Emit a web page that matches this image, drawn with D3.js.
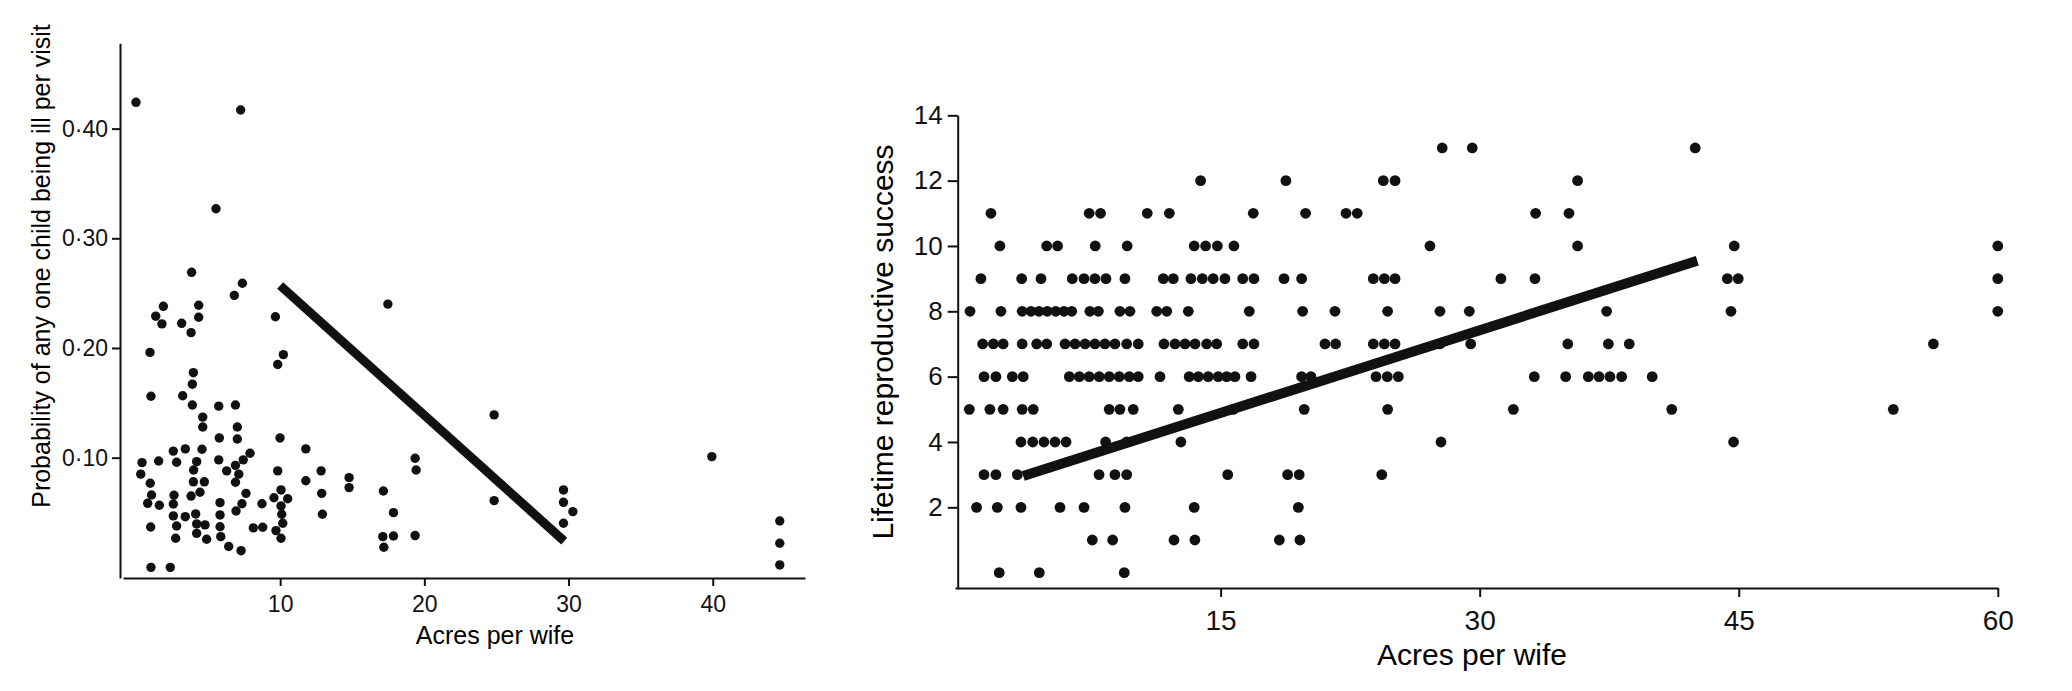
<!DOCTYPE html>
<html>
<head>
	<title>index</title>
	<meta charset="UTF-8">
	<script src="https://cdn.jsdelivr.net/npm/d3@7/dist/d3.min.js"></script>
	<style>
		body { margin:0; background:#fff; }
		svg { display:block; font-family:"Liberation Sans", Arial, sans-serif; }
		.axis path, .axis line { stroke:#111; stroke-width:2; }
		.axis text { fill:#111; }
	</style>
</head>
<body>
<script>
	// ---------- left panel: illness vs acres per wife ----------
	var illAcres = [0.0, 7.26, 5.55, 3.86, 7.38, 6.82, 1.37, 1.9, 1.8, 3.17, 3.82, 4.35, 4.35, 9.67, 17.47,
		0.97, 1.04, 3.98, 3.91, 3.24, 3.91, 4.63, 4.63, 5.74, 6.9, 7.03, 7.03, 5.78, 9.83, 10.22, 9.99, 11.78,
		0.42, 0.33, 1.57, 2.59, 3.42, 2.82, 4.21, 4.58, 4.0, 3.98, 4.74, 4.44, 3.82, 5.74, 6.29, 6.9, 7.13, 6.9,
		7.44, 7.91, 7.63, 7.35, 6.94, 5.83, 5.83, 5.83, 5.88, 6.43, 7.29,
		0.99, 1.08, 0.81, 1.62, 1.02, 2.64, 2.59, 2.59, 2.82, 2.75, 3.42, 4.14, 4.21, 4.21, 4.79, 4.9, 1.04, 2.38,
		8.74, 8.14, 8.79, 9.83, 10.06, 9.57, 10.52, 10.06, 10.11, 10.18, 9.71, 10.06,
		11.78, 12.84, 12.88, 12.93, 14.78, 14.78, 17.16, 17.86, 17.12, 17.86, 17.19, 19.36, 19.43, 19.36,
		24.84, 24.84, 29.65, 29.65, 30.3, 29.65, 39.94, 44.65, 44.65, 44.65];
	var illProb = [0.424, 0.417, 0.327, 0.269, 0.259, 0.248, 0.229, 0.238, 0.222, 0.2225, 0.214, 0.239, 0.228, 0.2285, 0.240,
		0.196, 0.156, 0.1775, 0.167, 0.1565, 0.148, 0.137, 0.128, 0.147, 0.148, 0.128, 0.117, 0.118, 0.185, 0.194, 0.118, 0.108,
		0.0955, 0.085, 0.097, 0.106, 0.108, 0.0958, 0.0964, 0.1077, 0.0888, 0.078, 0.078, 0.0685, 0.065, 0.098, 0.088, 0.093, 0.085, 0.0776,
		0.098, 0.104, 0.0675, 0.058, 0.0514, 0.059, 0.0478, 0.037, 0.028, 0.019, 0.0152,
		0.0767, 0.066, 0.0584, 0.0566, 0.0368, 0.0657, 0.0578, 0.0469, 0.0377, 0.0265, 0.0462, 0.0487, 0.0396, 0.031, 0.0387, 0.0256, 0.0, 0.0,
		0.058, 0.036, 0.0366, 0.088, 0.0706, 0.0635, 0.0626, 0.056, 0.0484, 0.0402, 0.0335, 0.0265,
		0.079, 0.088, 0.0675, 0.0484, 0.0818, 0.0727, 0.0696, 0.0499, 0.028, 0.0286, 0.0183, 0.0995, 0.0888, 0.029,
		0.139, 0.0608, 0.0706, 0.0593, 0.0508, 0.0402, 0.101, 0.0423, 0.022, 0.0022];
	var illFitAcres = [10, 29.7];
	var illFitProb = [0.257, 0.024];
	var illTicksX = [10, 20, 30, 40];
	var illTicksY = [0.10, 0.20, 0.30, 0.40];

	// ---------- right panel: lifetime reproductive success ----------
	var lrsRows = [13, 12, 11, 10, 9, 8, 7, 6, 5, 4, 3, 2, 1, 0];
	var lrsAcres = [
		[27.83, 29.57, 42.48],
		[13.84, 18.78, 24.42, 25.10, 35.67],
		[1.70, 7.39, 8.05, 10.75, 12.03, 16.89, 19.92, 22.26, 22.91, 33.24, 35.17],
		[2.22, 4.93, 5.56, 7.74, 9.59, 13.47, 14.13, 14.81, 15.77, 27.12, 35.67, 44.74, 60],
		[1.12, 3.48, 4.60, 6.41, 7.09, 7.72, 8.36, 9.46, 11.68, 12.26, 13.28, 13.94, 14.57, 15.25, 16.28, 16.93,
			18.67, 19.69, 23.84, 24.48, 25.10, 31.23, 33.20, 44.34, 44.97, 60],
		[0.49, 2.28, 3.51, 4.02, 4.48, 4.96, 5.45, 5.93, 6.38, 7.43, 7.92, 9.17, 9.75, 11.30, 11.88, 13.13, 16.66,
			19.75, 21.62, 24.67, 27.70, 29.40, 37.35, 44.55, 60],
		[1.22, 1.84, 2.41, 3.51, 4.35, 4.93, 5.99, 6.57, 7.15, 7.72, 8.30, 8.88, 9.56, 10.23, 11.72, 12.36, 12.94,
			13.52, 14.19, 14.77, 16.28, 16.93, 21.04, 21.66, 23.84, 24.48, 25.10, 27.70, 29.48, 35.10, 37.45, 38.66, 56.27],
		[1.30, 1.99, 2.94, 3.57, 6.24, 6.82, 7.39, 7.97, 8.55, 9.13, 9.71, 10.23, 11.49, 13.18, 13.71, 14.28, 14.86,
			15.35, 15.83, 16.76, 19.69, 20.23, 24.00, 24.65, 25.29, 33.16, 34.98, 36.29, 36.91, 37.54, 38.22, 39.99],
		[0.45, 1.64, 2.41, 3.51, 4.15, 8.55, 9.17, 9.94, 12.55, 15.73, 19.84, 24.67, 31.95, 41.12, 53.95],
		[3.44, 4.12, 4.77, 5.41, 6.05, 8.34, 9.56, 12.70, 27.76, 44.70],
		[1.30, 1.99, 3.23, 7.96, 8.88, 9.56, 15.41, 18.88, 19.55, 24.33],
		[0.87, 2.07, 3.44, 5.70, 7.09, 9.46, 13.47, 19.50],
		[7.57, 8.75, 12.30, 13.51, 18.40, 19.59],
		[2.18, 4.50, 9.42]
	];
	var lrsFitAcres = [3.57, 42.6];
	var lrsFitValue = [2.96, 9.55];
	var lrsTicksX = [15, 30, 45, 60];
	var lrsTicksY = [2, 4, 6, 8, 10, 12, 14];

	var svg = d3.select("body").append("svg").attr("width", 2072).attr("height", 691);

	drawLeft();
	drawRight();

	function drawLeft() {
		var x = d3.scaleLinear().domain([-0.9, 46.4]).range([123, 805]);
		var y = d3.scaleLinear().domain([-0.0097, 0.4778]).range([578, 43.3]);

		var xAxis = svg.append("g").attr("class", "axis").attr("transform", "translate(0,578)")
			.call(d3.axisBottom(x).tickValues(illTicksX).tickSize(8).tickSizeOuter(0).tickPadding(10)
				.tickFormat(d3.format("d")));
		xAxis.selectAll("text").style("font-size", "23px");

		var yAxis = svg.append("g").attr("class", "axis").attr("transform", "translate(120,0)")
			.call(d3.axisLeft(y).tickValues(illTicksY).tickSize(8).tickSizeOuter(0).tickPadding(4)
				.tickFormat(function(d) { return d3.format(".2f")(d).replace(".", "\u00b7"); }));
		yAxis.selectAll("text").style("font-size", "23px");

		svg.append("text").attr("x", 495).attr("y", 644).attr("text-anchor", "middle")
			.style("font-size", "25px").text("Acres per wife");
		svg.append("text").attr("transform", "translate(50,266) rotate(-90)").attr("text-anchor", "middle")
			.style("font-size", "25px").text("Probability of any one child being ill per visit");

		svg.append("g").selectAll("circle").data(d3.range(illAcres.length)).enter().append("circle")
			.attr("cx", function(i) { return x(illAcres[i]); })
			.attr("cy", function(i) { return y(illProb[i]); })
			.attr("r", 4.7).attr("fill", "#111");

		svg.append("line")
			.attr("x1", x(illFitAcres[0])).attr("y1", y(illFitProb[0]))
			.attr("x2", x(illFitAcres[1])).attr("y2", y(illFitProb[1]))
			.attr("stroke", "#111").attr("stroke-width", 9);
	} // drawLeft

	function drawRight() {
		var x = d3.scaleLinear().domain([-0.38, 60]).range([955, 1997.8]);
		var y = d3.scaleLinear().domain([-0.47, 14]).range([588, 115.3]);

		var xAxis = svg.append("g").attr("class", "axis").attr("transform", "translate(0,588)")
			.call(d3.axisBottom(x).tickValues(lrsTicksX).tickSize(9).tickSizeOuter(0).tickPadding(13)
				.tickFormat(d3.format("d")));
		xAxis.selectAll("text").style("font-size", "28px");

		var yAxis = svg.append("g").attr("class", "axis").attr("transform", "translate(957.7,0)")
			.call(d3.axisLeft(y).tickValues(lrsTicksY).tickSize(10).tickSizeOuter(0).tickPadding(5));
		yAxis.selectAll("text").style("font-size", "26px");

		svg.append("text").attr("x", 1472).attr("y", 665).attr("text-anchor", "middle")
			.style("font-size", "30px").text("Acres per wife");
		svg.append("text").attr("transform", "translate(893,342) rotate(-90)").attr("text-anchor", "middle")
			.style("font-size", "30px").text("Lifetime reproductive success");

		var pts = [];
		lrsRows.forEach(function(v, r) {
			lrsAcres[r].forEach(function(a) { pts.push([a, v]); });
		});
		svg.append("g").selectAll("circle").data(pts).enter().append("circle")
			.attr("cx", function(d) { return x(d[0]); })
			.attr("cy", function(d) { return y(d[1]); })
			.attr("r", 5.4).attr("fill", "#111");

		svg.append("line")
			.attr("x1", x(lrsFitAcres[0])).attr("y1", y(lrsFitValue[0]))
			.attr("x2", x(lrsFitAcres[1])).attr("y2", y(lrsFitValue[1]))
			.attr("stroke", "#111").attr("stroke-width", 10);
	} // drawRight
</script>
</body>
</html>
